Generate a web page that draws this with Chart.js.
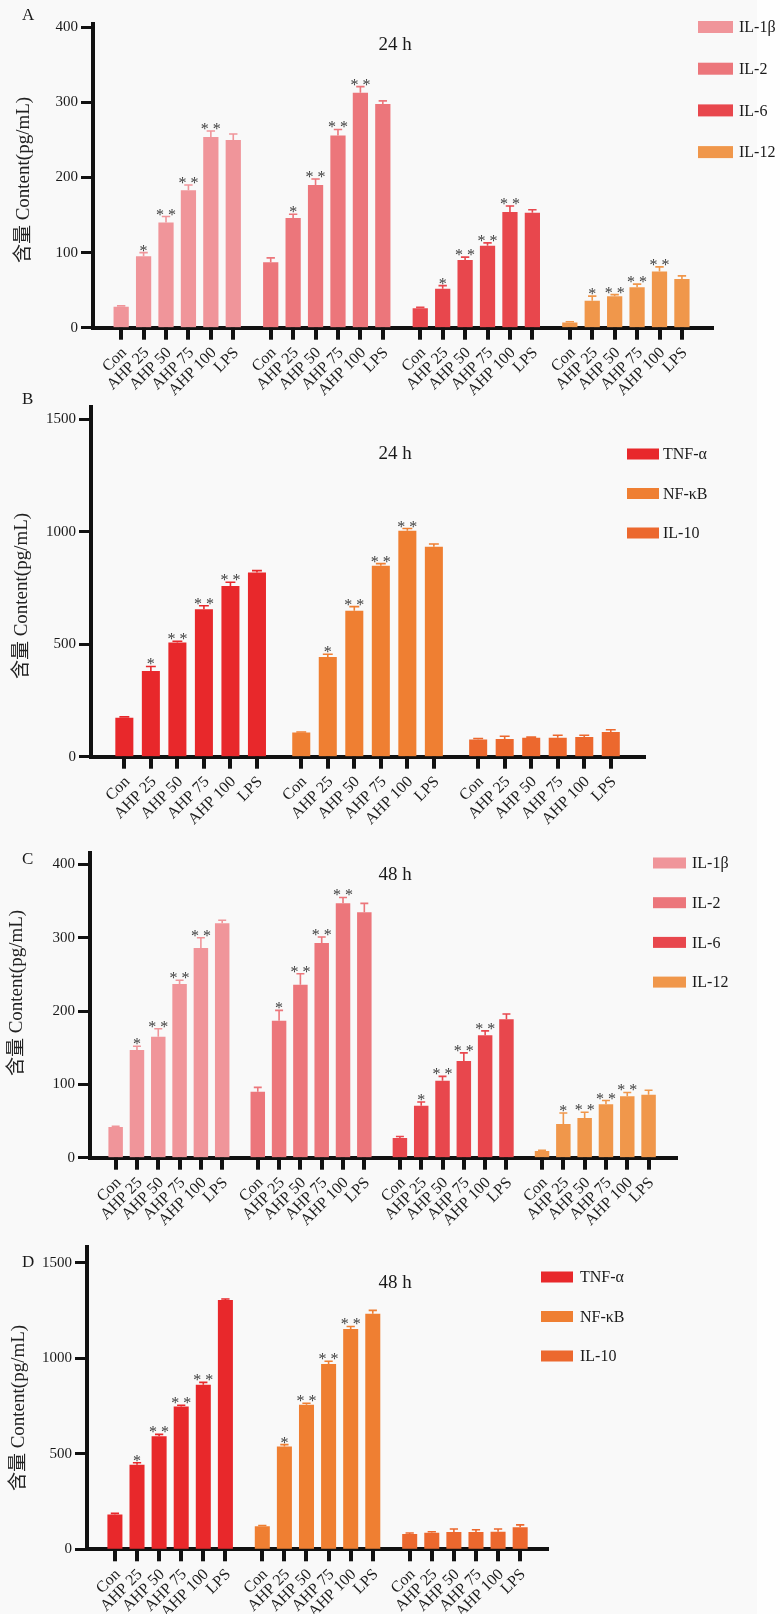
<!DOCTYPE html>
<html>
<head>
<meta charset="utf-8">
<script src="https://cdn.jsdelivr.net/npm/chart.js@4.4.1/dist/chart.umd.min.js"></script>
<style>
  html, body { margin: 0; padding: 0; }
  body { width: 780px; height: 1614px; position: relative; background: #f9f9f9; overflow: hidden; }
  .edge { position: absolute; left: 757px; top: 0; width: 23px; height: 1614px; background: #fefefe; }
  .panel { position: absolute; left: 0; width: 780px; }
  canvas { display: block; }
</style>
</head>
<body>
<div class="edge"></div>
<div class="panel" style="top:0px"><canvas id="panelA" width="780" height="410"></canvas></div>
<div class="panel" style="top:390px"><canvas id="panelB" width="780" height="440"></canvas></div>
<div class="panel" style="top:830px"><canvas id="panelC" width="780" height="410"></canvas></div>
<div class="panel" style="top:1235px"><canvas id="panelD" width="780" height="379"></canvas></div>
<script>
// Treatment groups on every x axis
const doseLabels = ['Con', 'AHP 25', 'AHP 50', 'AHP 75', 'AHP 100', 'LPS'];

// Significance marks vs. control
const sigDose = ['', '*', '* *', '* *', '* *', ''];
const sigNone = ['', '', '', '', '', ''];

// y-axis tick values
const yTicksIL = [0, 100, 200, 300, 400];
const yTicksCyt = [0, 500, 1000, 1500];

// 24 h interleukins, pg/mL (mean, error)
const il1b24 = [28, 95, 140, 183, 254, 250];
const il1b24Err = [1, 5, 8, 7, 8, 8];
const il2_24 = [87, 146, 190, 256, 313, 298];
const il2_24Err = [6, 5, 8, 8, 8, 4];
const il6_24 = [26, 52, 90, 109, 154, 153];
const il6_24Err = [1, 4, 4, 4, 8, 4];
const il12_24 = [7, 36, 42, 54, 75, 65];
const il12_24Err = [1, 6, 2, 4, 6, 4];

// 24 h TNF-α / NF-κB / IL-10, pg/mL
const tnf24 = [173, 381, 508, 655, 759, 818];
const tnf24Err = [4, 20, 5, 16, 16, 9];
const nfkb24 = [107, 443, 649, 848, 1004, 933];
const nfkb24Err = [3, 12, 18, 10, 10, 12];
const il10_24 = [76, 79, 84, 84, 88, 110];
const il10_24Err = [5, 12, 3, 11, 7, 10];

// 48 h interleukins, pg/mL
const il1b48 = [42, 147, 165, 237, 286, 320];
const il1b48Err = [1, 5, 11, 5, 14, 4];
const il2_48 = [90, 187, 236, 293, 347, 335];
const il2_48Err = [6, 14, 15, 8, 8, 12];
const il6_48 = [27, 71, 105, 132, 167, 189];
const il6_48Err = [2, 5, 6, 11, 6, 7];
const il12_48 = [9, 46, 54, 73, 84, 86];
const il12_48Err = [1, 15, 8, 5, 5, 6];

// 48 h TNF-α / NF-κB / IL-10, pg/mL
const tnf48 = [182, 443, 592, 748, 862, 1305];
const tnf48Err = [6, 10, 10, 6, 12, 6];
const nfkb48 = [121, 538, 757, 970, 1153, 1234];
const nfkb48Err = [4, 10, 8, 15, 14, 17];
const il10_48 = [80, 87, 90, 90, 92, 116];
const il10_48Err = [5, 5, 16, 12, 14, 12];

const COLORS = {
  il1b: '#f0959a', il2: '#ec767b', il6: '#e8474d', il12: '#f0974b',
  tnf: '#e8282b', nfkb: '#ef7f32', il10: '#ec682e'
};

const SERIF = '"Liberation Serif", "Times New Roman", "Noto Sans CJK SC", serif';
const GROUP_GAP = 1.67;     // spacing between cytokine groups, in bar slots
const Y_TITLE = '含量 Content(pg/mL)';
const INK = '#1a1a1a';

// Error bars, significance stars, x tick marks, legend, axis title, panel letter and time label
const decorPlugin = {
  id: 'panelDecor',
  afterDatasetsDraw(chart) {
    const ctx = chart.ctx;
    const yScale = chart.scales.y;
    chart.data.datasets.forEach((ds, di) => {
      const meta = chart.getDatasetMeta(di);
      meta.data.forEach((bar, i) => {
        const v = ds.data[i].y;
        const yTop = yScale.getPixelForValue(v + ds.errors[i]);
        const cap = bar.width * 0.55;
        ctx.save();
        ctx.strokeStyle = ds.errorColor;
        ctx.lineWidth = 1.6;
        ctx.beginPath();
        ctx.moveTo(bar.x, bar.y);
        ctx.lineTo(bar.x, yTop);
        ctx.moveTo(bar.x - cap / 2, yTop);
        ctx.lineTo(bar.x + cap / 2, yTop);
        ctx.stroke();
        if (ds.marks[i]) {
          ctx.fillStyle = '#404040';
          ctx.font = '16px ' + SERIF;
          ctx.textAlign = 'center';
          ctx.textBaseline = 'alphabetic';
          ctx.fillText(ds.marks[i], bar.x, yTop + 3);
        }
        ctx.restore();
      });
    });
  },
  afterDraw(chart, args, opts) {
    const ctx = chart.ctx;
    const area = chart.chartArea;
    ctx.save();
    // x tick marks under each bar
    ctx.fillStyle = '#111';
    chart.data.datasets.forEach((ds, di) => {
      chart.getDatasetMeta(di).data.forEach(bar => {
        ctx.fillRect(Math.round(bar.x) - 2, area.bottom, 4, 12);
      });
    });
    ctx.fillStyle = INK;
    ctx.textBaseline = 'middle';
    // y-axis title
    ctx.save();
    ctx.translate(opts.yTitle.x, opts.yTitle.y);
    ctx.rotate(-Math.PI / 2);
    ctx.font = '19px ' + SERIF;
    ctx.textAlign = 'center';
    ctx.fillStyle = '#222';
    ctx.fillText(Y_TITLE, 0, 0);
    ctx.restore();
    // panel letter
    ctx.font = '17px ' + SERIF;
    ctx.textAlign = 'left';
    ctx.fillText(opts.letter, 22, opts.letterY);
    // time label
    ctx.font = '19px ' + SERIF;
    ctx.textAlign = 'center';
    ctx.fillText(opts.time, 395, opts.timeY);
    // legend
    const lg = opts.legend;
    ctx.font = '16px ' + SERIF;
    ctx.textAlign = 'left';
    chart.data.datasets.forEach((ds, i) => {
      const cy = lg.y + i * lg.dy;
      ctx.fillStyle = ds.backgroundColor;
      ctx.fillRect(lg.x, cy - lg.h / 2, lg.w, lg.h);
      ctx.fillStyle = INK;
      ctx.fillText(ds.label, lg.tx, cy + 1);
    });
    ctx.restore();
  }
};

function buildPanel(id, series, yTicks, lay) {
  const slot = doseLabels.length - 1 + GROUP_GAP;
  const datasets = series.map((s, g) => ({
    label: s.label,
    data: s.values.map((v, i) => ({ x: g * slot + i, y: v })),
    errors: s.errors,
    marks: s.marks,
    backgroundColor: s.color,
    errorColor: s.color,
    borderWidth: 0,
    grouped: false,
    barPercentage: 0.68,
    categoryPercentage: 1
  }));
  const positions = datasets.flatMap(d => d.data.map(p => p.x));

  return new Chart(document.getElementById(id), {
    type: 'bar',
    data: { datasets },
    plugins: [decorPlugin],
    options: {
      responsive: false,
      animation: false,
      layout: { padding: { top: lay.padTop, right: lay.padRight, left: 0, bottom: 0 } },
      plugins: {
        legend: { display: false },
        tooltip: { enabled: false },
        panelDecor: lay.decor
      },
      scales: {
        x: {
          type: 'linear',
          min: lay.xMin,
          max: lay.xMax,
          z: 1,
          afterBuildTicks: (scale) => { scale.ticks = positions.map(v => ({ value: v })); },
          afterFit: (scale) => { scale.height = lay.xHeight; },
          ticks: {
            autoSkip: false,
            minRotation: 45,
            maxRotation: 45,
            padding: 16,
            labelOffset: 3,
            color: INK,
            font: { family: SERIF, size: 16 },
            callback: (val, idx) => doseLabels[idx % doseLabels.length]
          },
          grid: { display: false, drawTicks: false },
          border: { display: true, color: '#111', width: 4 }
        },
        y: {
          type: 'linear',
          min: 0,
          max: lay.yMax,
          z: 1,
          afterBuildTicks: (scale) => { scale.ticks = yTicks.map(v => ({ value: v })); },
          afterFit: (scale) => { scale.width = lay.yWidth; },
          ticks: {
            padding: 3,
            color: INK,
            font: { family: SERIF, size: 15 },
            callback: (val) => String(val)
          },
          grid: { drawOnChartArea: false, drawTicks: true, tickLength: 12, tickWidth: 3, tickColor: '#111', color: '#111' },
          border: { display: true, color: '#111', width: 4 }
        }
      }
    }
  });
}

const ilSeries24 = [
  { label: 'IL-1β', values: il1b24, errors: il1b24Err, marks: sigDose, color: COLORS.il1b },
  { label: 'IL-2', values: il2_24, errors: il2_24Err, marks: sigDose, color: COLORS.il2 },
  { label: 'IL-6', values: il6_24, errors: il6_24Err, marks: sigDose, color: COLORS.il6 },
  { label: 'IL-12', values: il12_24, errors: il12_24Err, marks: sigDose, color: COLORS.il12 }
];
const cytSeries24 = [
  { label: 'TNF-α', values: tnf24, errors: tnf24Err, marks: sigDose, color: COLORS.tnf },
  { label: 'NF-κB', values: nfkb24, errors: nfkb24Err, marks: sigDose, color: COLORS.nfkb },
  { label: 'IL-10', values: il10_24, errors: il10_24Err, marks: sigNone, color: COLORS.il10 }
];
const ilSeries48 = [
  { label: 'IL-1β', values: il1b48, errors: il1b48Err, marks: sigDose, color: COLORS.il1b },
  { label: 'IL-2', values: il2_48, errors: il2_48Err, marks: sigDose, color: COLORS.il2 },
  { label: 'IL-6', values: il6_48, errors: il6_48Err, marks: sigDose, color: COLORS.il6 },
  { label: 'IL-12', values: il12_48, errors: il12_48Err, marks: sigDose, color: COLORS.il12 }
];
const cytSeries48 = [
  { label: 'TNF-α', values: tnf48, errors: tnf48Err, marks: sigDose, color: COLORS.tnf },
  { label: 'NF-κB', values: nfkb48, errors: nfkb48Err, marks: sigDose, color: COLORS.nfkb },
  { label: 'IL-10', values: il10_48, errors: il10_48Err, marks: sigNone, color: COLORS.il10 }
];

buildPanel('panelA', ilSeries24, yTicksIL, {
  padTop: 24, padRight: 67, yWidth: 93, xHeight: 82.3, yMax: 404.4,
  xMin: -0.68, xMax: 25.82,
  decor: { letter: 'A', letterY: 16, time: '24 h', timeY: 45,
           yTitle: { x: 24, y: 180 },
           legend: { x: 698, y: 27, dy: 41.7, w: 35, h: 12, tx: 739 } }
});
buildPanel('panelB', cytSeries24, yTicksCyt, {
  padTop: 17, padRight: 135, yWidth: 91, xHeight: 73.3, yMax: 1554,
  xMin: -0.677, xMax: 19.05,
  decor: { letter: 'B', letterY: 10, time: '24 h', timeY: 64,
           yTitle: { x: 22, y: 206 },
           legend: { x: 627, y: 64, dy: 39.5, w: 32, h: 11, tx: 663 } }
});
buildPanel('panelC', ilSeries48, yTicksIL, {
  padTop: 23, padRight: 103, yWidth: 90, xHeight: 82.3, yMax: 415.7,
  xMin: -0.63, xMax: 25.77,
  decor: { letter: 'C', letterY: 30, time: '48 h', timeY: 45,
           yTitle: { x: 17, y: 163 },
           legend: { x: 653, y: 33, dy: 39.7, w: 33, h: 11, tx: 692 } }
});
buildPanel('panelD', cytSeries48, yTicksCyt, {
  padTop: 11, padRight: 232, yWidth: 87, xHeight: 64.7, yMax: 1583,
  xMin: -0.684, xMax: 19.02,
  decor: { letter: 'D', letterY: 28, time: '48 h', timeY: 48,
           yTitle: { x: 19, y: 173 },
           legend: { x: 541, y: 42, dy: 39.5, w: 32, h: 11, tx: 580 } }
});
</script>
</body>
</html>
